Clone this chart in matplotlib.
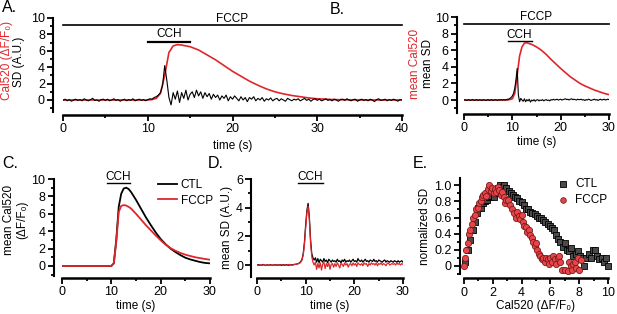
import matplotlib
matplotlib.use("Agg")
import matplotlib.pyplot as plt
import numpy as np
from matplotlib.ticker import MultipleLocator, FuncFormatter

plt.rcParams['font.family'] = ['Liberation Sans', 'DejaVu Sans']
plt.rcParams['font.size'] = 8.5

RED = '#e0262b'
FS = 8.5     # textos
FT = 9       # numeros de los ejes

# ---------------- datos ----------------
# A: traza media Cal520 (roja) y SD (negra), 0-40 s
a_cal_t = [0, 5, 10, 10.5, 11, 11.5, 12, 12.5, 13, 13.5, 14, 15, 16, 17, 18, 19, 20,
           21, 22, 23, 24, 25, 26, 27, 28, 29, 30, 32, 35, 40]
a_cal_v = [0, 0, 0, 0.05, 0.2, 0.8, 3.0, 5.8, 6.6, 6.75, 6.7, 6.5, 6.1, 5.5, 4.9, 4.2, 3.5,
           2.9, 2.3, 1.8, 1.35, 1.0, 0.75, 0.55, 0.4, 0.25, 0.15, 0.05, 0, 0]
a_sd_dt = 0.25
a_sd_v = [-0.05, 0.1, -0.1, 0.05, -0.15, 0.0, 0.1, -0.05, 0.05, -0.1, 0.15, 0.0, -0.1, 0.05, 0.2, -0.05,
          0.0, -0.15, 0.05, 0.1, -0.05, 0.1, -0.1, 0.0, 0.15, -0.05, 0.05, -0.15, 0.0, 0.1, -0.1, 0.05,
          -0.05, 0.15, -0.1, 0.0, 0.1, -0.05, 0.05, -0.1, 0.05, 0.15, 0.1, 0.3, 0.4, 0.6, 0.9, 1.8,
          4.2, 2.4, 0.3, -0.6, 0.9, 0.1, 1.1, -0.3, 0.9, 0.2, 1.2, 0.0, 0.7, 1.0, 0.3, 1.2,
          0.5, 1.0, 0.2, 0.9, 0.4, 0.8, 0.1, 0.7, 0.3, 0.6, 0.0, 0.5, 0.2, 0.6, -0.1, 0.4,
          0.1, 0.5, 0.2, -0.1, 0.4, 0.0, 0.3, -0.2, 0.3, 0.1, 0.4, -0.1, 0.2, 0.0, 0.3, -0.15,
          0.15, 0.0, 0.25, -0.1, 0.1, 0.2, -0.1, 0.15, 0.0, -0.15, 0.2, 0.05, -0.1, 0.1, 0.0, 0.15,
          -0.1, 0.05, 0.2, -0.05, 0.1, -0.15, 0.05, 0.15, -0.05, 0.1, -0.1, 0.0, 0.15, -0.05, 0.05, -0.1,
          0.1, 0.0, -0.15, 0.05, 0.1, -0.05, 0.15, 0.0, -0.1, 0.05, 0.1, -0.15, 0.0, 0.1, -0.05, 0.05,
          -0.1, 0.1, 0.0, -0.2, 0.05, 0.15, -0.05, 0.0, 0.1, -0.1, 0.05, -0.05, 0.1, 0.0, -0.15, 0.05,
          0.0]

# B: media Cal520 y media SD, 0-30 s
b_cal_t = [0, 5, 9, 10, 10.5, 11, 11.5, 12, 12.5, 13, 14, 15, 16, 17, 18, 19, 20,
           21, 22, 23, 24, 25, 26, 27, 28, 29, 30]
b_cal_v = [0, 0, 0, 0.15, 0.8, 3.0, 5.3, 6.4, 6.85, 6.9, 6.7, 6.4, 6.0, 5.5, 4.9, 4.35, 3.8,
           3.3, 2.8, 2.4, 2.0, 1.7, 1.45, 1.2, 1.0, 0.8, 0.65]
b_sd_v = [0.0, 0.05, -0.05, 0.0, 0.05, -0.05, 0.0, 0.05, 0.0, -0.05, 0.05, 0.0, -0.05, 0.05, 0.0, -0.05,
          0.05, 0.0, -0.05, 0.0, 0.05, -0.05, 0.0, 0.05, -0.05, 0.0, 0.05, 0.0, -0.05, 0.05, 0.0, 0.05,
          0.0, 0.05, 0.0, 0.05, 0.1, 0.1, 0.2, 0.3, 0.5, 0.8, 1.4, 2.4, 3.8, 0.6, -0.2, 0.2,
          0.0, -0.15, 0.15, -0.2, 0.05, -0.1, 0.1, -0.25, 0.0, -0.1, 0.05, -0.15, 0.0, 0.05, -0.1, 0.0,
          -0.05, 0.05, -0.1, 0.0, 0.05, -0.05, 0.0, -0.1, 0.05, 0.0, 0.1, 0.0, 0.05, 0.1, 0.0, 0.05,
          0.1, 0.0, 0.05, 0.1, 0.15, 0.05, 0.1, 0.0, 0.1, 0.15, 0.05, 0.1, 0.05, 0.0, 0.1, 0.05,
          0.05, 0.1, 0.0, 0.05, -0.05, 0.05, 0.0, 0.1, 0.05, -0.05, 0.0, 0.05, 0.1, 0.0, 0.05, -0.05,
          0.05, 0.1, 0.0, 0.05, 0.1, 0.0, 0.05, 0.1,
          0.05]

# C: media Cal520 CTL vs FCCP
c_t = [0, 10, 10.5, 11, 11.5, 12, 12.5, 13, 13.5, 14, 15, 16, 17, 18, 19, 20,
       21, 22, 23, 24, 25, 26, 27, 28, 29, 30]
c_ctl = [0, 0, 0.3, 3.0, 6.8, 8.3, 8.9, 9.0, 8.85, 8.5, 7.6, 6.6, 5.6, 4.7, 3.85, 3.1,
         2.5, 2.0, 1.6, 1.25, 0.95, 0.75, 0.6, 0.45, 0.35, 0.3]
c_fccp = [0, 0, 0.3, 2.8, 6.2, 6.9, 7.0, 6.95, 6.8, 6.6, 6.0, 5.35, 4.7, 4.1, 3.5, 2.95,
          2.45, 2.05, 1.75, 1.5, 1.3, 1.15, 1.0, 0.9, 0.8, 0.72]

# D: media SD CTL vs FCCP (cada 0.25 s)
d_ctl = [0.0, 0.03, -0.03, 0.02, -0.02, 0.04, 0.0, -0.03, 0.02, 0.0, -0.02, 0.03, 0.0, -0.03, 0.02, 0.0,
         0.02, -0.02, 0.0, 0.03, -0.03, 0.0, 0.02, -0.02, 0.03, 0.0, -0.02, 0.02, 0.0, 0.03, 0.02, 0.05,
         0.05, 0.08, 0.1, 0.15, 0.25, 0.4, 0.8, 1.6, 2.8, 3.8, 4.3, 3.4, 1.8, 0.8, 0.5, 0.35,
         0.5, 0.2, 0.45, 0.15, 0.4, 0.3, 0.2, 0.45, 0.25, 0.35, 0.15, 0.4, 0.3, 0.2, 0.35, 0.25,
         0.3, 0.2, 0.4, 0.25, 0.3, 0.15, 0.35, 0.25, 0.4, 0.2, 0.3, 0.25, 0.35, 0.2, 0.3, 0.4,
         0.25, 0.3, 0.2, 0.45, 0.3, 0.25, 0.35, 0.2, 0.3, 0.4, 0.25, 0.3, 0.2, 0.35, 0.3, 0.25,
         0.4, 0.25, 0.3, 0.2, 0.35, 0.3, 0.25, 0.2, 0.3, 0.35, 0.2, 0.3, 0.25, 0.2, 0.3, 0.25,
         0.2, 0.3, 0.25, 0.2, 0.3, 0.2, 0.25, 0.3,
         0.2]
d_fccp = [0.02, -0.03, 0.0, 0.03, -0.02, 0.0, 0.03, -0.04, 0.0, 0.02, -0.03, 0.0, 0.03, -0.02, 0.0, 0.02,
          -0.03, 0.0, 0.02, -0.02, 0.03, 0.0, -0.03, 0.02, 0.0, -0.02, 0.03, 0.0, 0.02, -0.02, 0.03, 0.04,
          0.05, 0.07, 0.1, 0.12, 0.2, 0.35, 0.7, 1.4, 2.6, 3.6, 4.1, 3.2, 1.6, 0.6, 0.2, 0.0,
          0.2, -0.3, 0.1, -0.2, 0.15, -0.35, 0.05, 0.2, -0.25, 0.1, -0.1, 0.15, -0.3, 0.05, 0.1, -0.15,
          0.1, -0.1, 0.15, 0.0, -0.2, 0.1, 0.05, -0.1, 0.15, 0.0, 0.1, -0.15, 0.05, 0.1, -0.05, 0.15,
          0.0, 0.1, -0.1, 0.15, 0.05, 0.0, 0.1, -0.05, 0.15, 0.05, 0.1, -0.1, 0.1, 0.0, 0.15, 0.05,
          0.1, 0.0, 0.15, -0.05, 0.1, 0.05, 0.15, 0.0, 0.1, 0.05, -0.05, 0.1, 0.15, 0.0, 0.05, 0.1,
          0.05, 0.1, 0.0, 0.15, 0.05, 0.1, 0.0, 0.1,
          0.05]

# E: SD normalizada vs Cal520
e_ctl_x = [0.1, 0.3, 0.45, 0.6, 0.75, 0.9, 1.0, 1.15, 1.3, 1.45, 1.6, 1.75, 1.9, 2.05, 2.2, 2.35,
           2.5, 2.65, 2.8, 2.95, 3.1, 3.25, 3.4, 3.55, 3.7, 3.85, 4.0, 4.15, 4.3, 4.45, 4.6, 4.75,
           4.9, 5.05, 5.2, 5.35, 5.5, 5.65, 5.8, 5.95, 6.1, 6.25, 6.4, 6.55, 6.7, 6.85, 7.0, 7.15,
           7.3, 7.45, 7.6, 7.75, 7.9, 8.05, 8.2, 8.35, 8.5, 8.65, 8.8, 8.95, 9.1, 9.25, 9.4, 9.55,
           9.7, 9.85, 10.0]
e_ctl_y = [0.05, 0.2, 0.32, 0.45, 0.55, 0.65, 0.72, 0.72, 0.78, 0.8, 0.82, 0.85, 0.87, 0.85, 0.9, 0.97,
           1.0, 0.98, 1.0, 0.97, 0.93, 0.9, 0.88, 0.85, 0.84, 0.8, 0.79, 0.75, 0.71, 0.7, 0.67, 0.66,
           0.64, 0.62, 0.6, 0.6, 0.57, 0.55, 0.52, 0.5, 0.47, 0.45, 0.38, 0.33, 0.3, 0.24, 0.28, 0.2,
           0.18, 0.22, 0.12, 0.15, 0.18, 0.12, 0.1, 0.0, 0.1, 0.15, 0.1, 0.2, 0.2, 0.12, 0.08, 0.1,
           0.05, 0.1, 0.0]
e_fccp_x = [0.0, 0.05, 0.15, 0.25, 0.35, 0.45, 0.55, 0.65, 0.75, 0.85, 0.95, 1.05, 1.15, 1.25, 1.35, 1.45,
            1.55, 1.65, 1.75, 1.85, 1.95, 2.05, 2.15, 2.25, 2.35, 2.45, 2.55, 2.65, 2.75, 2.85, 2.95, 3.05,
            3.2, 3.35, 3.5, 3.6, 3.7, 3.8, 3.9, 4.0, 4.1, 4.2, 4.3, 4.4, 4.5, 4.6, 4.7, 4.8,
            4.9, 5.0, 5.1, 5.2, 5.3, 5.4, 5.5, 5.6, 5.7, 5.8, 5.9, 6.0, 6.1, 6.2, 6.3, 6.4,
            6.5, 6.6, 6.7, 6.8, 7.0, 7.2, 7.3, 7.4, 7.5, 7.6, 7.7, 7.8, 7.9, 8.0, 8.1]
e_fccp_y = [0.0, 0.1, 0.2, 0.28, 0.4, 0.45, 0.52, 0.6, 0.63, 0.7, 0.72, 0.78, 0.8, 0.85, 0.88, 0.9,
            0.87, 0.95, 1.0, 0.93, 0.97, 0.9, 0.95, 0.92, 0.98, 0.94, 0.88, 0.92, 0.85, 0.78, 0.82, 0.82,
            0.75, 0.7, 0.65, 0.6, 0.67, 0.62, 0.58, 0.63, 0.55, 0.5, 0.48, 0.42, 0.45, 0.38, 0.35, 0.3,
            0.25, 0.28, 0.2, 0.15, 0.12, 0.08, 0.1, 0.05, 0.1, 0.08, 0.03, 0.1, 0.05, 0.12, 0.08, 0.03,
            0.1, 0.12, 0.05, -0.05, -0.05, -0.06, 0.05, 0.0, -0.05, 0.02, 0.05, -0.03, 0.1, -0.05, 0.07]


def estilo(ax, xmaj, xmin, ymaj, ymin, left_off, bot_off):
    # estilo tipo Prism: ejes separados, ticks hacia afuera
    for s in ['top', 'right']:
        ax.spines[s].set_visible(False)
    ax.spines['left'].set_position(('outward', left_off))
    ax.spines['bottom'].set_position(('outward', bot_off))
    ax.spines['left'].set_linewidth(1.5)
    ax.spines['bottom'].set_linewidth(1.8)
    ax.xaxis.set_major_locator(MultipleLocator(xmaj))
    ax.xaxis.set_minor_locator(MultipleLocator(xmin))
    ax.yaxis.set_major_locator(MultipleLocator(ymaj))
    ax.yaxis.set_minor_locator(MultipleLocator(ymin))
    ax.tick_params(which='major', length=4, width=1.3, labelsize=FT, pad=2)
    ax.tick_params(which='minor', length=2.5, width=1.3)


def barra(ax, x0, x1, y, texto, lw=1.3, dy=0.15):
    ax.plot([x0, x1], [y, y], color='black', lw=lw, clip_on=False)
    ax.text((x0 + x1) / 2, y + dy, texto, ha='center', va='bottom', fontsize=FS, clip_on=False)


fig = plt.figure(figsize=(6.17, 3.14), dpi=100)
W, H = 617, 314


def caja(x0, x1, ytop, ybot):
    return [x0 / W, 1 - ybot / H, (x1 - x0) / W, (ybot - ytop) / H]


# ---------- A ----------
axA = fig.add_axes(caja(63, 402, 18, 112.3))
tA = np.arange(len(a_sd_v)) * a_sd_dt
axA.plot(a_cal_t, a_cal_v, color=RED, lw=1.2)
axA.plot(tA, a_sd_v, color='black', lw=0.8)
axA.set_xlim(0, 40)
axA.set_ylim(-1.5, 10)
estilo(axA, 10, 5, 2, 1, 7, 2)
barra(axA, 0, 40, 9.1, 'FCCP', lw=1.2, dy=0.1)
barra(axA, 10, 15, 7.1, 'CCH', lw=1.6, dy=0.2)
axA.set_xlabel('time (s)', fontsize=FS, labelpad=3)
fig.text(7 / W, 1 - 60 / H, 'Cal520 (ΔF/F₀)', color=RED, rotation=90, ha='center', va='center', fontsize=FS)
fig.text(19 / W, 1 - 62 / H, 'SD (A.U.)', color='black', rotation=90, ha='center', va='center', fontsize=FS)

# ---------- B ----------
axB = fig.add_axes(caja(464, 609, 17, 112.5))
tB = np.arange(len(b_sd_v)) * 0.25
axB.plot(b_cal_t, b_cal_v, color=RED, lw=1.2)
axB.plot(tB, b_sd_v, color='black', lw=0.8)
axB.set_xlim(0, 30)
axB.set_ylim(-1.5, 10)
estilo(axB, 10, 5, 2, 1, 5, 1)
barra(axB, 0, 30, 9.15, 'FCCP', lw=1.2, dy=0.1)
barra(axB, 9, 14, 7.1, 'CCH', lw=1.0, dy=0.05)
axB.set_xlabel('time (s)', fontsize=FS, labelpad=1)
fig.text(415 / W, 1 - 64 / H, 'mean Cal520', color=RED, rotation=90, ha='center', va='center', fontsize=FS)
fig.text(428 / W, 1 - 63 / H, 'mean SD', color='black', rotation=90, ha='center', va='center', fontsize=FS)

# ---------- C ----------
axC = fig.add_axes(caja(62, 210, 179, 276.4))
axC.plot(c_t, c_ctl, color='black', lw=1.3, label='CTL')
axC.plot(c_t, c_fccp, color=RED, lw=1.3, label='FCCP')
axC.set_xlim(0, 30)
axC.set_ylim(-1.2, 10)
estilo(axC, 10, 5, 2, 1, 6, 1)
barra(axC, 9.1, 13.8, 9.5, 'CCH', lw=1.0, dy=0.05)
axC.legend(loc='upper right', bbox_to_anchor=(1.06, 1.06), frameon=False, fontsize=FS,
           handlelength=1.6, handletextpad=0.3, labelspacing=0.3, borderpad=0)
axC.set_xlabel('time (s)', fontsize=FS, labelpad=1)
fig.text(9 / W, 1 - 220 / H, 'mean Cal520', rotation=90, ha='center', va='center', fontsize=FS)
fig.text(22 / W, 1 - 220 / H, '(ΔF/F₀)', rotation=90, ha='center', va='center', fontsize=FS)

# ---------- D ----------
axD = fig.add_axes(caja(257, 403, 179, 276.5))
tD = np.arange(len(d_ctl)) * 0.25
axD.plot(tD, d_ctl, color='black', lw=0.9)
axD.plot(tD, d_fccp, color=RED, lw=0.9)
axD.set_xlim(0, 30)
axD.set_ylim(-0.8, 6)
estilo(axD, 10, 5, 2, 1, 4, 1)
barra(axD, 8.5, 13.5, 5.7, 'CCH', lw=1.0, dy=0.03)
axD.set_xlabel('time (s)', fontsize=FS, labelpad=1)
axD.set_ylabel('mean SD (A.U.)', fontsize=FS, labelpad=2)

# ---------- E ----------
axE = fig.add_axes(caja(464, 608, 178, 274))
axE.scatter(e_ctl_x, e_ctl_y, marker='s', s=18, facecolor='#4a4a4a', edgecolor='black',
            linewidth=0.6, label='CTL', zorder=2, clip_on=False)
axE.scatter(e_fccp_x, e_fccp_y, marker='o', s=20, facecolor='#e8454a', edgecolor='#7a1a1a',
            linewidth=0.6, label='FCCP', zorder=3, clip_on=False)
axE.set_xlim(0, 10)
axE.set_ylim(-0.1, 1.09)
estilo(axE, 2, 1, 0.2, 0.1, 3, 3)
axE.yaxis.set_major_formatter(FuncFormatter(lambda v, p: '0' if abs(v) < 1e-9 else f'{v:.1f}'))
axE.legend(loc='upper right', bbox_to_anchor=(1.035, 1.06), frameon=False, fontsize=FS,
           handletextpad=0.0, labelspacing=0.3, borderpad=0, markerscale=0.9)
axE.set_xlabel('Cal520 (ΔF/F₀)', fontsize=FS, labelpad=1)
axE.set_ylabel('normalized SD', fontsize=FS, labelpad=2)

# letras de panel
for x, y, letra in [(2, 12, 'A.'), (330, 14, 'B.'), (2, 168, 'C.'), (208, 168, 'D.'), (413, 168, 'E.')]:
    fig.text(x / W, 1 - y / H, letra, fontsize=11.5, ha='left', va='baseline')

fig.savefig('out.png', dpi=100)
